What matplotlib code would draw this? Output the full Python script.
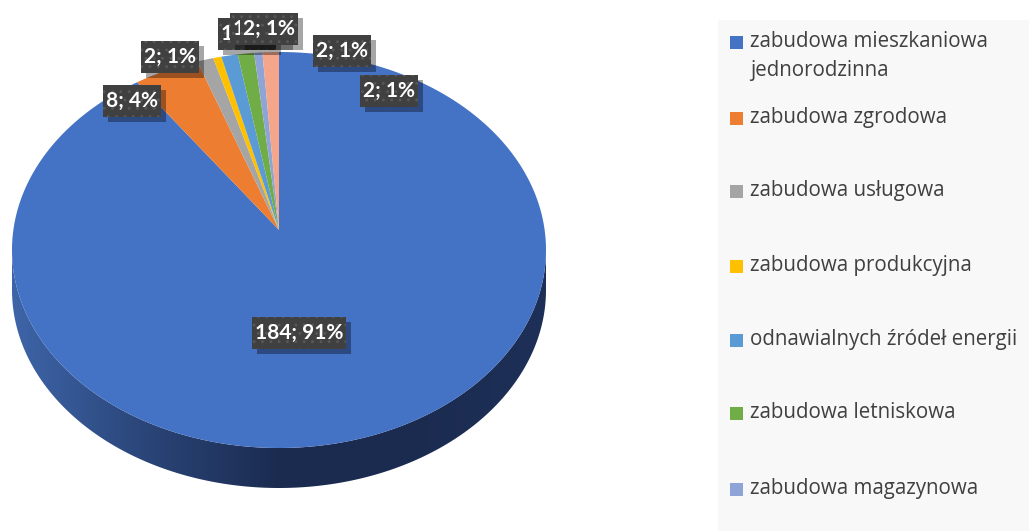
"""
Wykres kołowy 3D - rodzaje zabudowy
"""

import matplotlib
matplotlib.use("Agg")
import matplotlib.pyplot as plt
from matplotlib.patches import Polygon, Rectangle
from matplotlib.colors import LinearSegmentedColormap
import numpy as np

# dane
categories = [
  "zabudowa mieszkaniowa\njednorodzinna",
  "zabudowa zgrodowa",
  "zabudowa usługowa",
  "zabudowa produkcyjna",
  "odnawialnych źródeł energii",
  "zabudowa letniskowa",
  "zabudowa magazynowa",
  "inne",
]
values = [184, 8, 2, 1, 2, 2, 1, 2]
colors = ["#4472c4", "#ed7d31", "#a5a5a5", "#ffc000", "#5b9bd5", "#70ad47", "#8fa4d6", "#f4a58a"]

total = sum(values)
labels = [f"{v}; {round(100 * v / total)}%" for v in values]

# polozenie etykiet (srodek ramki, piksele) - kolejnosc rysowania
label_pos = {
  0: (299, 333),
  1: (132, 101),
  2: (170, 57),
  3: (247, 34),
  6: (259, 29),
  4: (269, 29),
  5: (342, 51),
  7: (389, 91),
}

W, H = 1029, 531
fig = plt.figure(figsize=(W / 100, H / 100), dpi=100)
ax = fig.add_axes([0, 0, 1, 1])
ax.set_xlim(0, W)
ax.set_ylim(H, 0)
ax.axis("off")

plt.rcParams["hatch.linewidth"] = 0.9

cx, cy, a, b = 279, 250, 267, 198
apex = (279, 230)
depth = 40


def pt(t, dy=0):
  r = np.radians(t)
  return cx + a * np.sin(r), cy - b * np.cos(r) + dy


# bok tortu (widoczna dolna polowa)
ts = np.linspace(90, 270, 200)
top = np.array([pt(t) for t in ts])
bot = np.array([pt(t, depth) for t in ts])[::-1]
side = Polygon(np.vstack([top, bot]), closed=True, fc="none", ec="none")
ax.add_patch(side)
cmap = LinearSegmentedColormap.from_list("side", ["#3e65a9", "#2a4578", "#1b2b50", "#1b2b50", "#1e3058"])
grad = np.linspace(0, 1, 256).reshape(1, -1)
im = ax.imshow(grad, cmap=cmap, extent=[cx - a, cx + a, cy + b + depth, cy], aspect="auto", zorder=1)
im.set_clip_path(side)

# wierzch tortu (od godz. 12 zgodnie z ruchem wskazowek)
start = 0.0
for v, c in zip(values, colors):
  span = v / total * 360
  ts = np.linspace(start, start + span, max(int(span * 2), 4))
  arc = [pt(t) for t in ts]
  ax.add_patch(Polygon([apex] + arc, closed=True, fc=c, ec="none", zorder=2))
  start += span

# etykiety danych
for k, (i, (x, y)) in enumerate(label_pos.items()):
  z = 10 + k
  t = ax.text(x, y, labels[i], ha="center", va="center", color="white",
              fontsize=15, fontweight="bold", family="Lato", zorder=z + 0.5)
  fig.canvas.draw()
  bb = t.get_window_extent(fig.canvas.get_renderer())
  bw = bb.width + 6
  bh = 32
  x0, y0 = x - bw / 2, y - bh / 2
  ax.add_patch(Rectangle((x0 + 5, y0 + 5), bw, bh, fc="black", ec="none", alpha=0.35, zorder=z))
  ax.add_patch(Rectangle((x0, y0), bw, bh, fc="#404040", ec="#575757", lw=0, hatch="..", zorder=z + 0.2))

# legenda
ax.add_patch(Rectangle((718, 20), W - 718, H - 20, fc="#f8f8f8", ec="none", zorder=0))
leg_y = [42, 118, 191, 266, 340, 413, 489]
for name, c, y in zip(categories, colors, leg_y):
  ax.add_patch(Rectangle((730, y - 6.5), 13, 13, fc=c, ec="none"))
  ax.text(750, y - 11, name, ha="left", va="top", color="#404040", fontsize=14.8,
          family="Open Sans", linespacing=1.5)

fig.savefig("out.png", dpi=100)
